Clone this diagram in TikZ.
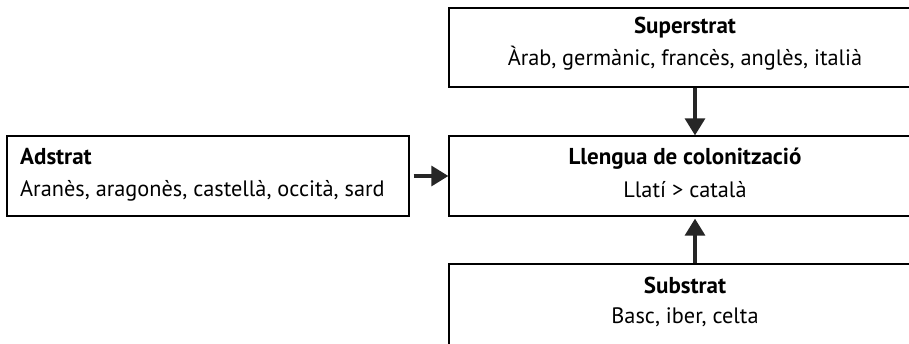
\documentclass[tikz,border=0pt]{standalone}
\usepackage{fontspec}
\setmainfont{PT Sans}
\usetikzlibrary{arrows.meta}
\begin{document}
\begin{tikzpicture}[x=1pt,y=-1pt,
  box/.style={draw=black, line width=1.3pt, inner sep=0pt, fill=white},
  ttl/.style={font=\fontsize{23}{27}\selectfont\bfseries, inner sep=0pt, text=black},
  txt/.style={font=\fontsize{22.3}{26}\selectfont, inner sep=0pt, text=black},
  arr/.style={draw=black!85, line width=3.2pt, -{Triangle[length=17pt,width=20pt]}}]
\clip (0,0) rectangle (909,343);
\fill[white] (0,0) rectangle (909,343);
% boxes
\node[box, minimum width=472pt, minimum height=79pt] (sup) at (685,47.5) {};
\node[box, minimum width=472pt, minimum height=80pt] (mid) at (685,176) {};
\node[box, minimum width=472pt, minimum height=100pt] (sub) at (685,314) {};
\node[box, minimum width=402pt, minimum height=80pt] (ad) at (208,176) {};
% texts
\node[ttl, anchor=base] (supT) at (685,33) {Superstrat};
\node[txt, anchor=base] (supL) at (685,65) {Àrab, germànic, francès, anglès, italià};
\node[ttl, anchor=base] (midT) at (685,164) {Llengua de colonització};
\node[txt, anchor=base] (midL) at (685,197) {Llatí > català};
\node[ttl, anchor=base] (subT) at (685,293) {Substrat};
\node[txt, anchor=base] (subL) at (685,323) {Basc, iber, celta};
\node[ttl, anchor=base west] (adT) at (20,164) {Adstrat};
\node[txt, anchor=base west] (adL) at (20,196) {Aranès, aragonès, castellà, occità, sard};
% arrows
\coordinate (ax) at (695,0);
\draw[arr] (ax |- sup.south) -- (ax |- mid.north);
\draw[arr, shorten >=2pt] (ax |- sub.north) -- (ax |- mid.south);
\draw[arr, shorten <=4pt] (ad.east) -- (mid.west);
\end{tikzpicture}
\end{document}
